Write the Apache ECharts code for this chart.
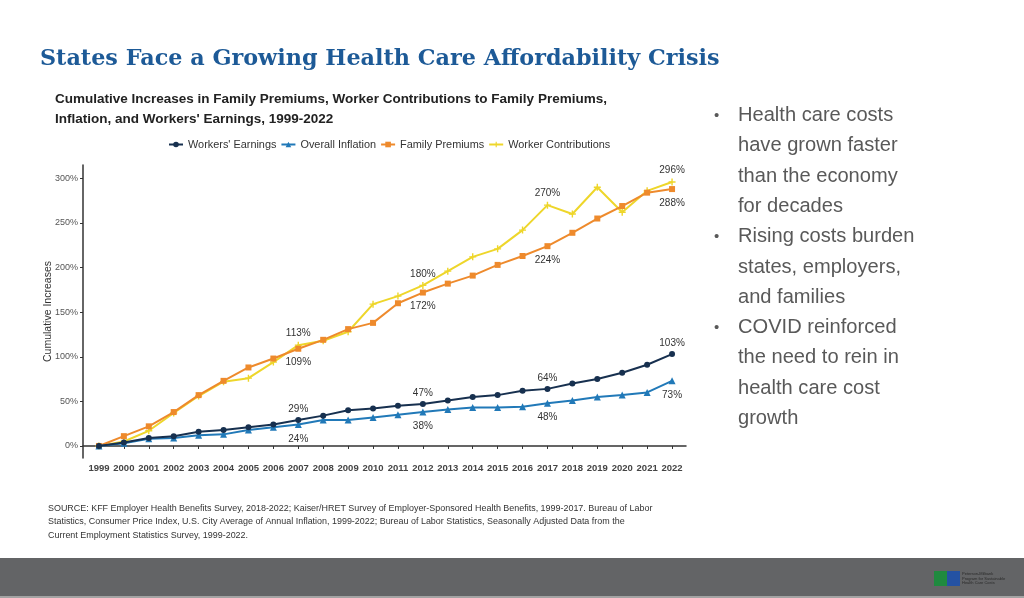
<!DOCTYPE html>
<html>
<head>
<meta charset="utf-8">
<script src="https://cdn.jsdelivr.net/npm/echarts@6/dist/echarts.min.js"></script>
<style>
html,body{margin:0;padding:0;background:#fff;}
#chart{width:1024px;height:598px;}
</style>
</head>
<body>
<div id="chart"></div>
<script>
const years = [1999,2000,2001,2002,2003,2004,2005,2006,2007,2008,2009,2010,2011,2012,2013,2014,2015,2016,2017,2018,2019,2020,2021,2022];
const workersEarnings = [0,4,9,11,16,18,21,24,29,34,40,42,45,47,51,55,57,62,64,70,75,82,91,103];
const overallInflation = [0,3,8,9,12,13,18,21,24,29,29,32,35,38,41,43,43,44,48,51,55,57,60,73];
const familyPremiums = [0,11,22,38,57,73,88,98,109,119,131,138,160,172,182,191,203,213,224,239,255,269,284,288];
const workerContributions = [0,5,17,37,56,72,76,94,113,118,128,159,168,180,196,212,221,242,270,260,290,262,286,296];
const labelYears = [2007,2012,2017,2022];
const yTicks = [0,50,100,150,200,250,300];
const seriesNames = ["Workers' Earnings","Overall Inflation","Family Premiums","Worker Contributions"];
const bullets = [
  ["Health care costs","have grown faster","than the economy","for decades"],
  ["Rising costs burden","states, employers,","and families"],
  ["COVID reinforced","the need to rein in","health care cost","growth"]
];
const sourceLines = [
  "SOURCE: KFF Employer Health Benefits Survey, 2018-2022; Kaiser/HRET Survey of Employer-Sponsored Health Benefits, 1999-2017. Bureau of Labor",
  "Statistics, Consumer Price Index, U.S. City Average of Annual Inflation, 1999-2022; Bureau of Labor Statistics, Seasonally Adjusted Data from the",
  "Current Employment Statistics Survey, 1999-2022."
];

function mk(arr, pos) {
  return years.map((y, i) => ({
    value: [y, arr[i]],
    label: { show: labelYears.indexOf(y) >= 0, position: pos, distance: pos === 'top' ? 3 : 6 }
  }));
}
const plusPath = 'path://M4,0H6V4H10V6H6V10H4V6H0V4H4Z';
const lbl = { fontFamily: 'Liberation Sans, Arial, sans-serif', fontSize: 10, color: '#333', formatter: p => p.value[1] + '%' };

const chart = echarts.init(document.getElementById('chart'), null, { renderer: 'canvas' });

const graphics = [];
graphics.push({ type: 'text', left: 40, top: 48, style: { text: 'States Face a Growing Health Care Affordability Crisis', font: 'bold 22.3px "DejaVu Serif", serif', fill: '#1d5a97' } });
graphics.push({ type: 'text', left: 55, top: 89, style: { text: 'Cumulative Increases in Family Premiums, Worker Contributions to Family Premiums,\nInflation, and Workers\' Earnings, 1999-2022', font: 'bold 13.5px "Liberation Sans", Arial, sans-serif', fill: '#222', lineHeight: 20 } });
let ly = 117, lineH = 30.3;
bullets.forEach(b => {
  graphics.push({ type: 'text', left: 714, top: ly - 9, style: { text: '•', font: '15px "Liberation Sans", Arial, sans-serif', fill: '#595959' } });
  b.forEach(line => {
    graphics.push({ type: 'text', left: 738, top: ly - 11.5, style: { text: line, font: '20.1px "Liberation Sans", Arial, sans-serif', fill: '#595959' } });
    ly += lineH;
  });
});
sourceLines.forEach((s, i) => {
  graphics.push({ type: 'text', left: 48, top: 504 + i * 13.3, style: { text: s, font: '8.95px "Liberation Sans", Arial, sans-serif', fill: '#333' } });
});
graphics.push({ type: 'rect', left: 0, top: 558, shape: { width: 1024, height: 40 }, style: { fill: '#636466' } });
graphics.push({ type: 'rect', left: 0, top: 596, shape: { width: 1024, height: 2 }, style: { fill: '#a3a3a3' } });
graphics.push({ type: 'rect', left: 934, top: 571, shape: { width: 13, height: 15 }, style: { fill: '#1f8a3f' } });
graphics.push({ type: 'rect', left: 947, top: 571, shape: { width: 13, height: 15 }, style: { fill: '#2452a3' } });
graphics.push({ type: 'text', left: 962, top: 572, style: { text: 'Peterson-Milbank\nProgram for Sustainable\nHealth Care Costs', font: '4px "Liberation Sans", Arial, sans-serif', fill: '#2a2a2a', lineHeight: 4.5 } });

chart.setOption({
  animation: false,
  backgroundColor: '#fff',
  textStyle: { fontFamily: 'Liberation Sans, Arial, sans-serif' },
  graphic: graphics,
  legend: {
    top: 134, left: 163,
    itemWidth: 14, itemHeight: 7, itemGap: 4,
    textStyle: { fontSize: 10.9, color: '#333', fontFamily: 'Liberation Sans, Arial, sans-serif' },
    data: seriesNames
  },
  grid: { left: 83, right: 338, top: 165, bottom: 140, containLabel: false },
  xAxis: {
    type: 'value', min: 1998.36, max: 2022.56,
    axisLine: { show: true, lineStyle: { color: '#333', width: 1.5 } },
    axisTick: { show: true, customValues: years, length: 3, lineStyle: { color: '#333' } },
    axisLabel: { customValues: years, formatter: v => String(v), fontSize: 9.5, fontWeight: 'bold', color: '#444', margin: 5 },
    splitLine: { show: false }
  },
  yAxis: {
    type: 'value', min: -13.5, max: 315,
    name: 'Cumulative Increases', nameLocation: 'middle', nameRotate: 90, nameGap: 29,
    nameMoveOverlap: false,
    nameTextStyle: { fontSize: 10.5, color: '#333' },
    axisLine: { show: true, lineStyle: { color: '#333', width: 1.5 } },
    axisTick: { show: true, customValues: yTicks, length: 3, lineStyle: { color: '#333' } },
    axisLabel: { customValues: yTicks, formatter: '{value}%', fontSize: 9, color: '#555', margin: 5 },
    splitLine: { show: false }
  },
  series: [
    { name: seriesNames[0], type: 'line', data: mk(workersEarnings, 'top'), color: '#17304f', symbol: 'circle', symbolSize: 6, lineStyle: { width: 2 }, label: lbl, z: 4 },
    { name: seriesNames[1], type: 'line', data: mk(overallInflation, 'bottom'), color: '#2179b8', symbol: 'triangle', symbolSize: 7, lineStyle: { width: 2 }, label: lbl, z: 3 },
    { name: seriesNames[2], type: 'line', data: mk(familyPremiums, 'bottom'), color: '#ee8a2c', symbol: 'rect', symbolSize: 6, lineStyle: { width: 2 }, label: lbl, z: 2 },
    { name: seriesNames[3], type: 'line', data: mk(workerContributions, 'top'), color: '#eed62a', symbol: plusPath, symbolSize: 7, lineStyle: { width: 2 }, label: lbl, z: 1 }
  ]
});
</script>
</body>
</html>
